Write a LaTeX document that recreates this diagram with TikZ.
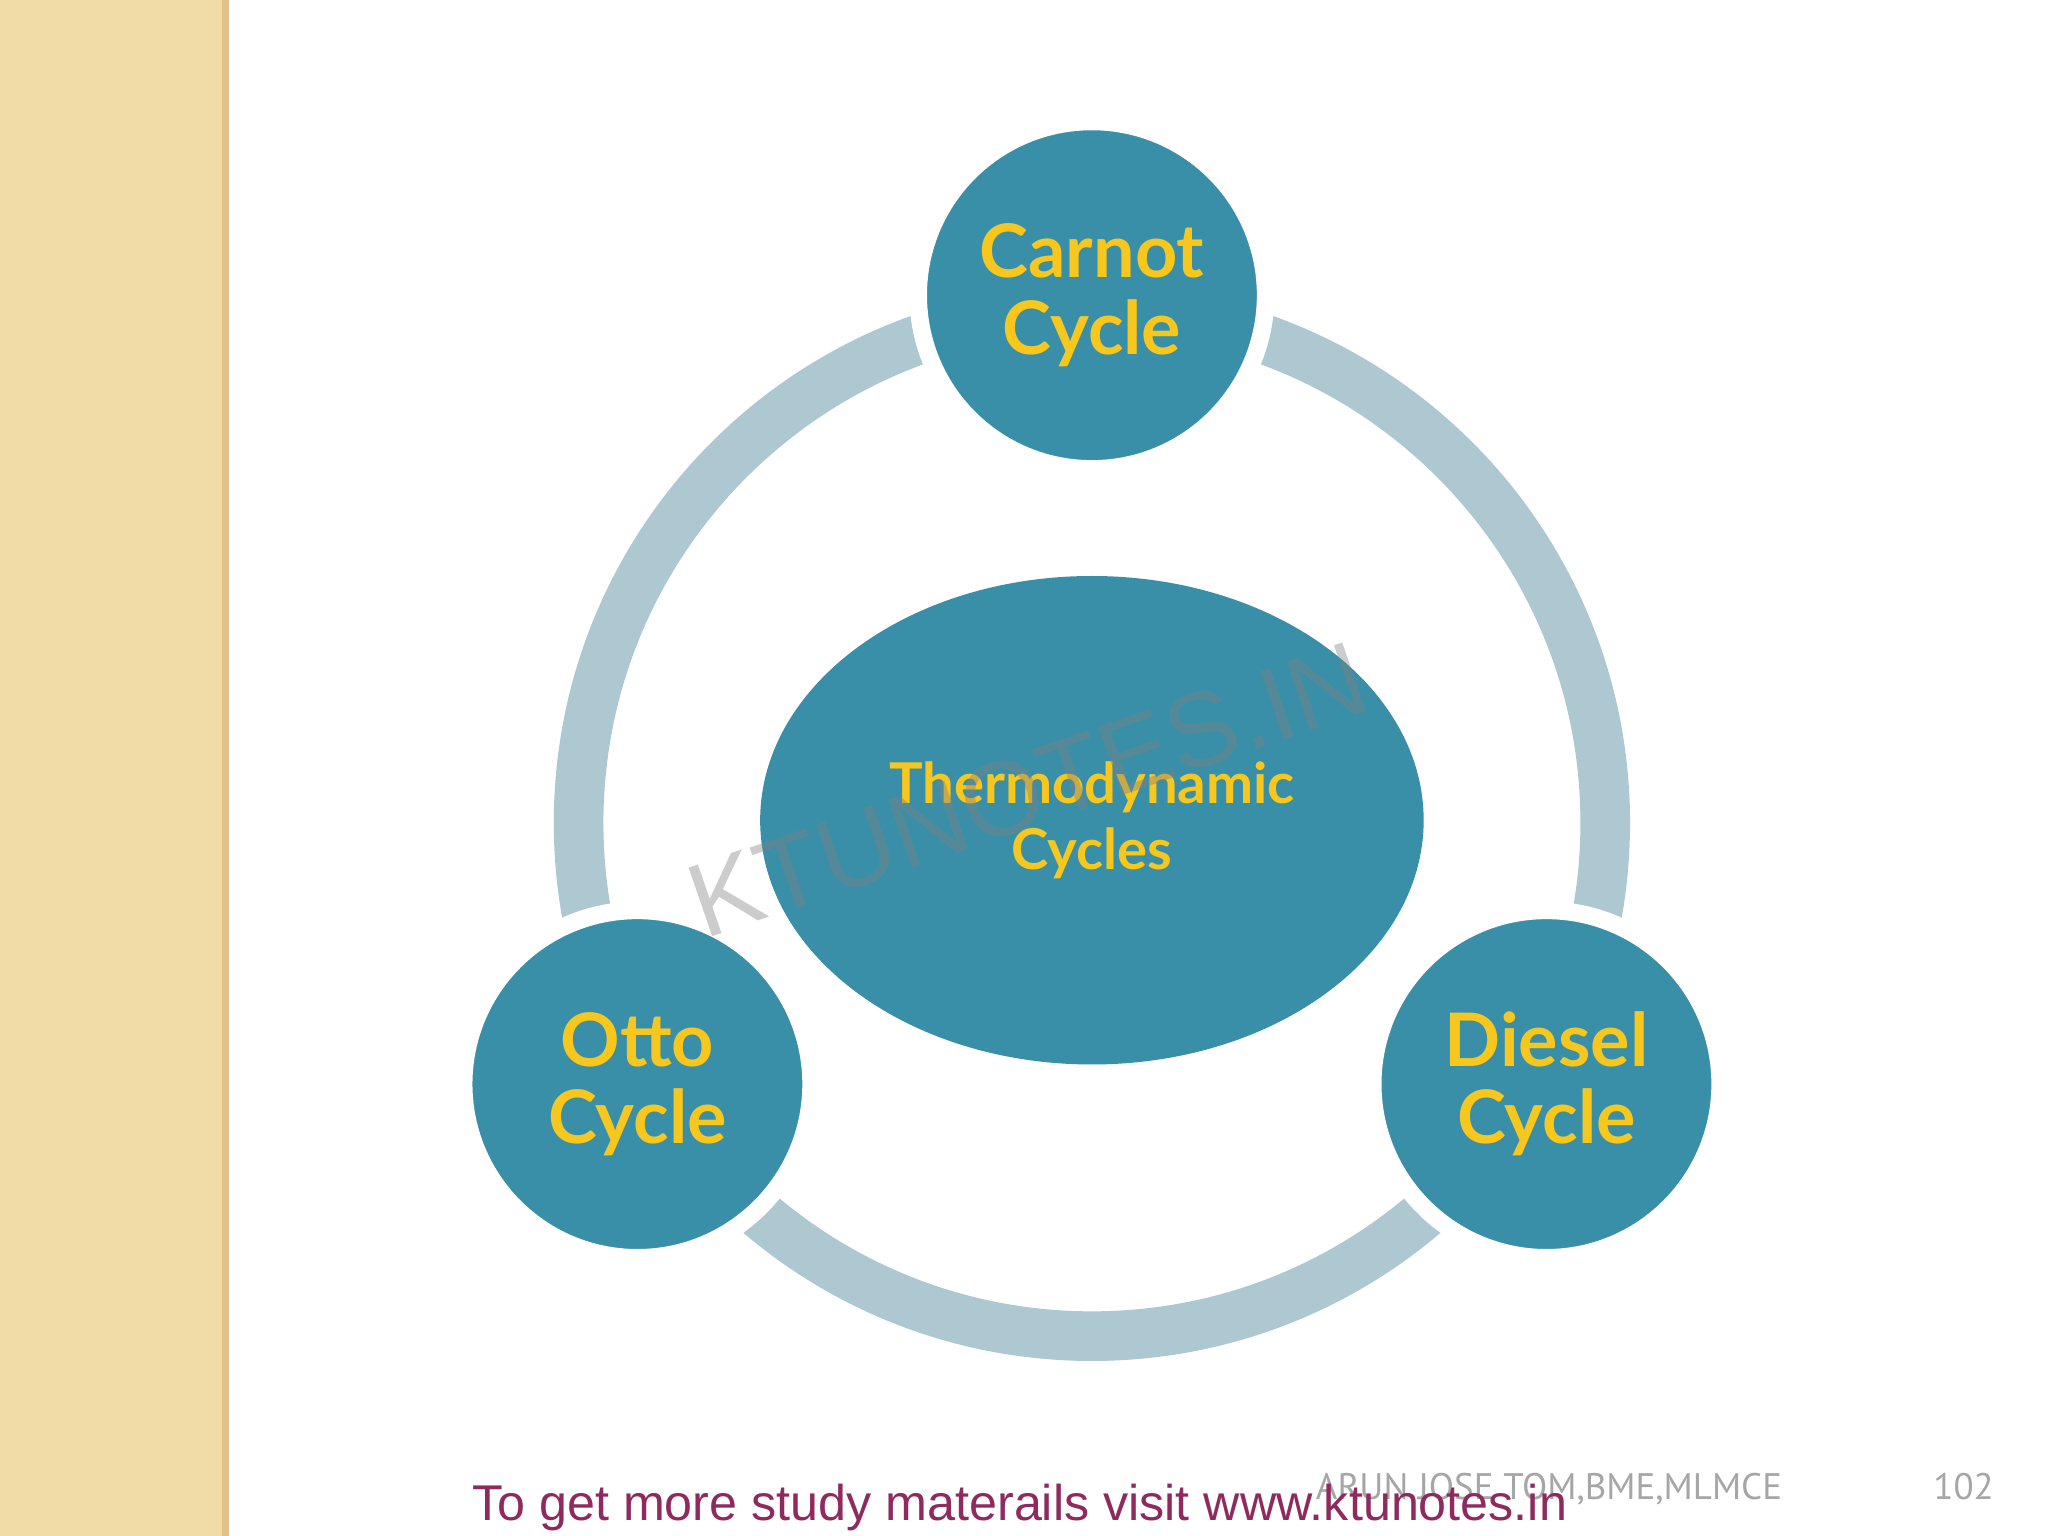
\documentclass[tikz,border=0pt]{standalone}
\usepackage{fontspec}
\usetikzlibrary{shapes.geometric}
\setmainfont{Liberation Sans}
\newfontfamily\capf{Lato}
\newfontfamily\auf{PT Sans}
\definecolor{teal1}{HTML}{3A8FA8}
\definecolor{ring}{HTML}{AEC8D2}
\definecolor{gold}{HTML}{F7C71E}
\definecolor{beige}{HTML}{F1DCA8}
\definecolor{purp}{HTML}{8E2A5E}
\begin{document}
\begin{tikzpicture}[x=0.01306cm,y=-0.01306cm,
  cyc/.style={circle,fill=teal1,draw=white,line width=5pt,minimum size=266*0.01306cm,inner sep=0pt,align=center,
    font=\capf\bfseries\fontsize{21}{22}\selectfont,text=gold}]
\useasboundingbox (0,0) rectangle (1568,1176);
\fill[beige] (0,0) rectangle (170,1176);
\fill[beige!70!brown] (170,0) rectangle (175,1176);
\draw[ring,line width=38*0.01306cm] (836,630) circle[radius=393];
\node[ellipse,fill=teal1,minimum width=508*0.01306cm,minimum height=374*0.01306cm,inner sep=0pt] (c) at (836,628) {};
\node[font=\capf\bfseries\fontsize{16}{19}\selectfont,text=gold,align=center] (ct) at (836,628) {Thermodynamic\\Cycles};
\node[cyc] (carnot) at (836,226) {Carnot\\Cycle};
\node[cyc] (otto) at (488,830) {Otto\\Cycle};
\node[cyc] (diesel) at (1184,830) {Diesel\\Cycle};
\node[rotate=19,text=gray,opacity=0.4,font=\fontsize{30}{30}\selectfont] (wm) at (787,605) {KTUNOTES.IN};
\node[anchor=base west,text=gray!70,font=\auf\fontsize{10.5}{11}\selectfont] (au) at (998,1148) {ARUN JOSE TOM,BME,MLMCE};
\node[anchor=base east,text=gray!70,font=\auf\fontsize{10.5}{11}\selectfont] (pg) at (1536,1148) {102};
\node[anchor=base west,text=purp,font=\fontsize{14.3}{15}\selectfont] (ft) at (352,1164) {To get more study materails visit www.ktunotes.in};
\end{tikzpicture}
\end{document}
